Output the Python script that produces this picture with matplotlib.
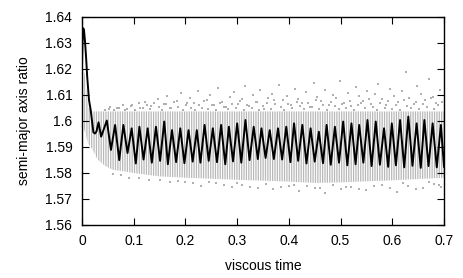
import matplotlib
matplotlib.use('Agg')
import matplotlib.pyplot as plt
from matplotlib.ticker import FuncFormatter

plt.rcParams['font.family'] = ['Liberation Sans', 'DejaVu Sans']
plt.rcParams['hatch.linewidth'] = 0.9

# mean semi-major axis ratio (black line): start-up transient, then peaks/troughs
line_t = [0.0, 0.001, 0.0025, 0.004, 0.006, 0.008, 0.010, 0.0135, 0.0168, 0.022, 0.025, 0.028, 0.032, 0.037,
          0.048, 0.056, 0.064, 0.072, 0.080, 0.088, 0.096, 0.104, 0.111, 0.119, 0.127, 0.135,
          0.143, 0.151, 0.159, 0.166, 0.174, 0.182, 0.190, 0.198, 0.206, 0.214, 0.222, 0.229,
          0.237, 0.245, 0.253, 0.261, 0.269, 0.277, 0.284, 0.292, 0.300, 0.308, 0.316, 0.324,
          0.332, 0.340, 0.347, 0.355, 0.363, 0.371, 0.379, 0.387, 0.395, 0.403, 0.410, 0.418,
          0.426, 0.434, 0.442, 0.450, 0.458, 0.466, 0.473, 0.481, 0.489, 0.497, 0.505, 0.513,
          0.521, 0.529, 0.536, 0.544, 0.552, 0.560, 0.568, 0.576, 0.584, 0.592, 0.599, 0.607,
          0.615, 0.623, 0.631, 0.639, 0.647, 0.655, 0.662, 0.670, 0.678, 0.686, 0.694, 0.700]
line_v = [1.621, 1.630, 1.6355, 1.6345, 1.630, 1.624, 1.617, 1.608, 1.604, 1.5955, 1.5950, 1.5958, 1.5993, 1.5938,
          1.6000, 1.5887, 1.5983, 1.5848, 1.5983, 1.5875, 1.5970, 1.5835, 1.5976, 1.5850, 1.5970, 1.5838,
          1.5976, 1.5845, 1.5996, 1.5832, 1.5963, 1.5840, 1.5970, 1.5836, 1.5963, 1.5842, 1.5963, 1.5838,
          1.5983, 1.5845, 1.5970, 1.5840, 1.5983, 1.5832, 1.5976, 1.5843, 1.5989, 1.5838, 1.6002, 1.5848,
          1.5976, 1.5852, 1.5970, 1.5856, 1.5963, 1.5852, 1.5970, 1.5850, 1.5976, 1.5840, 1.5989, 1.5845,
          1.5983, 1.5835, 1.5970, 1.5842, 1.5957, 1.5836, 1.5983, 1.5830, 1.5976, 1.5838, 1.5996, 1.5828,
          1.5989, 1.5832, 1.5983, 1.5838, 1.6002, 1.5825, 1.5996, 1.5830, 1.5970, 1.5822, 1.5989, 1.5828,
          1.6002, 1.5820, 1.6015, 1.5826, 1.5989, 1.5818, 1.6002, 1.5825, 1.5989, 1.5820, 1.5983, 1.5822]

# dense particle band (envelope of the grey stripes)
band_t = [0.0, 0.005, 0.012, 0.02, 0.03, 0.045, 0.06, 0.08, 0.1, 0.15, 0.2, 0.3, 0.4, 0.45, 0.5, 0.6, 0.7]
band_hi = [1.622, 1.618, 1.605, 1.6035, 1.6035, 1.6035, 1.6035, 1.6035, 1.6035, 1.6035, 1.6035,
           1.6035, 1.6035, 1.6035, 1.6035, 1.6035, 1.6035]
band_lo = [1.600, 1.596, 1.591, 1.589, 1.585, 1.5825, 1.581, 1.5805, 1.5798, 1.5785, 1.578,
           1.5772, 1.5765, 1.576, 1.5762, 1.577, 1.578]

# scattered particles above the band
upper_t = [0.052, 0.068, 0.083, 0.097, 0.112, 0.121, 0.134, 0.146, 0.158, 0.165,
           0.173, 0.184, 0.192, 0.201, 0.209, 0.216, 0.224, 0.233, 0.241, 0.248,
           0.256, 0.263, 0.271, 0.279, 0.286, 0.293, 0.301, 0.309, 0.316, 0.322,
           0.331, 0.338, 0.345, 0.352, 0.359, 0.367, 0.374, 0.381, 0.389, 0.396,
           0.404, 0.411, 0.418, 0.426, 0.433, 0.441, 0.448, 0.455, 0.462, 0.470,
           0.477, 0.485, 0.492, 0.499, 0.507, 0.514, 0.521, 0.529, 0.536, 0.544,
           0.551, 0.558, 0.566, 0.573, 0.581, 0.588, 0.596, 0.603, 0.611, 0.618,
           0.626, 0.633, 0.641, 0.648, 0.655, 0.663, 0.670, 0.678, 0.685, 0.692]
upper_v = [1.6045, 1.6050, 1.6042, 1.6058, 1.6048, 1.6072, 1.6055, 1.6081, 1.6062, 1.6094,
           1.6047, 1.6076, 1.6105, 1.6058, 1.6088, 1.6066, 1.6112, 1.6049, 1.6079, 1.6098,
           1.6061, 1.6124, 1.6071, 1.6053, 1.6091, 1.6108, 1.6064, 1.6083, 1.6131, 1.6057,
           1.6099, 1.6072, 1.6118, 1.6046, 1.6087, 1.6104, 1.6063, 1.6137, 1.6078, 1.6095,
           1.6058, 1.6121, 1.6084, 1.6068, 1.6109, 1.6052, 1.6143, 1.6091, 1.6074, 1.6116,
           1.6061, 1.6098, 1.6085, 1.6152, 1.6069, 1.6107, 1.6056, 1.6128, 1.6093, 1.6077,
           1.6114, 1.6063, 1.6101, 1.6139, 1.6082, 1.6059, 1.6123, 1.6096, 1.6071, 1.6112,
           1.6185, 1.6088, 1.6064, 1.6131, 1.6103, 1.6079, 1.6158, 1.6092, 1.6068, 1.6117]
upper2_t = [0.045, 0.054, 0.062, 0.071, 0.079, 0.087, 0.094, 0.103, 0.110, 0.118,
            0.126, 0.131, 0.139, 0.148, 0.155, 0.162, 0.170, 0.178, 0.186, 0.195,
            0.203, 0.211, 0.219, 0.227, 0.235, 0.244, 0.251, 0.259, 0.267, 0.275,
            0.283, 0.291, 0.298, 0.306, 0.314, 0.320, 0.328, 0.336, 0.343, 0.350,
            0.357, 0.365, 0.372, 0.384, 0.391, 0.399, 0.407, 0.415, 0.422, 0.430,
            0.437, 0.444, 0.452, 0.459, 0.466, 0.474, 0.482, 0.489, 0.496, 0.503,
            0.511, 0.518, 0.525, 0.533, 0.540, 0.547, 0.555, 0.562, 0.570, 0.577,
            0.585, 0.592, 0.600, 0.607, 0.614, 0.622, 0.629, 0.637, 0.645, 0.652,
            0.659, 0.667, 0.674, 0.681, 0.689, 0.696]
upper2_v = [1.6041, 1.6052, 1.6039, 1.6047, 1.6061, 1.6044, 1.6055, 1.6040, 1.6066, 1.6049,
            1.6058, 1.6043, 1.6069, 1.6051, 1.6040, 1.6063, 1.6047, 1.6072, 1.6054, 1.6042,
            1.6067, 1.6050, 1.6039, 1.6061, 1.6075, 1.6046, 1.6058, 1.6041, 1.6069, 1.6053,
            1.6044, 1.6064, 1.6050, 1.6077, 1.6042, 1.6059, 1.6048, 1.6070, 1.6040, 1.6056,
            1.6066, 1.6045, 1.6078, 1.6052, 1.6041, 1.6063, 1.6049, 1.6073, 1.6057, 1.6043,
            1.6068, 1.6051, 1.6080, 1.6046, 1.6060, 1.6040, 1.6071, 1.6055, 1.6044, 1.6065,
            1.6049, 1.6076, 1.6041, 1.6058, 1.6069, 1.6047, 1.6082, 1.6053, 1.6042, 1.6066,
            1.6050, 1.6074, 1.6045, 1.6061, 1.6040, 1.6079, 1.6056, 1.6048, 1.6070, 1.6043,
            1.6064, 1.6052, 1.6085, 1.6046, 1.6060, 1.6072]

# scattered particles below the band
lower_t = [0.06, 0.09, 0.13, 0.17, 0.2, 0.23, 0.26, 0.29, 0.31, 0.34, 0.37, 0.4,
           0.42, 0.45, 0.47, 0.5, 0.52, 0.55, 0.58, 0.61, 0.63, 0.66, 0.68, 0.695,
           0.075, 0.11, 0.15, 0.185, 0.215, 0.245, 0.275, 0.30, 0.325, 0.355, 0.385, 0.41,
           0.435, 0.46, 0.485, 0.51, 0.535, 0.565, 0.595, 0.62, 0.645, 0.67, 0.69]
lower_v = [1.5795, 1.578, 1.5772, 1.5765, 1.5762, 1.5748, 1.5758, 1.5745, 1.5752, 1.574, 1.5735, 1.5748,
           1.5728, 1.5741, 1.5722, 1.5738, 1.5745, 1.5731, 1.5752, 1.5725, 1.5748, 1.5739, 1.5755, 1.5745,
           1.5792, 1.5779, 1.5771, 1.5768, 1.5758, 1.5762, 1.5751, 1.5759, 1.5746, 1.5755, 1.5744, 1.5753,
           1.5748, 1.5739, 1.5751, 1.5744, 1.5737, 1.5749, 1.5742, 1.5758, 1.5735, 1.5762, 1.5752]

x_ticks = [0, 0.1, 0.2, 0.3, 0.4, 0.5, 0.6, 0.7]
y_ticks = [1.56, 1.57, 1.58, 1.59, 1.6, 1.61, 1.62, 1.63, 1.64]

fig = plt.figure(figsize=(4.63, 2.78), dpi=100)
ax = fig.add_axes([0.1771, 0.1924, 0.7819, 0.748])

ax.fill_between(band_t, band_lo, band_hi, facecolor='none', edgecolor='#b8b8b8',
                hatch='|||||||', linewidth=0)
dot = dict(s=2.2, marker='s', color='#b0b0b0', linewidths=0)
ax.scatter(upper_t, upper_v, **dot)
ax.scatter(upper2_t, upper2_v, **dot)
ax.scatter(lower_t, lower_v, **dot)
ax.plot(line_t, line_v, color='black', lw=1.4)

ax.set_xlim(0, 0.7)
ax.set_ylim(1.56, 1.64)
ax.set_xticks(x_ticks)
ax.set_yticks(y_ticks)
fmt = FuncFormatter(lambda v, p: '%g' % round(v, 3))
ax.xaxis.set_major_formatter(fmt)
ax.yaxis.set_major_formatter(fmt)
ax.tick_params(direction='in', length=5, width=0.8, top=True, right=True,
               labelsize=10, pad=7)
for s in ax.spines.values():
    s.set_linewidth(1.0)

ax.set_xlabel('viscous time', fontsize=10, labelpad=8)
ax.set_ylabel('semi-major axis ratio', fontsize=10, labelpad=10)

fig.savefig('out.png', dpi=100)
